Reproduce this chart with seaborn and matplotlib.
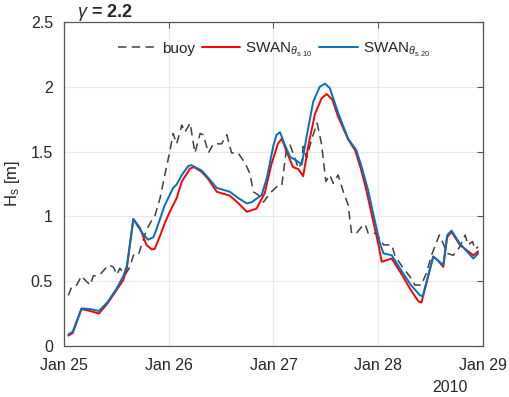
import matplotlib
matplotlib.use('Agg')
import matplotlib.pyplot as plt
import matplotlib.dates as mdates
from matplotlib.ticker import FuncFormatter, MultipleLocator
import pandas as pd
import seaborn as sns

# hours after 2010-01-25 00:00
swan10_hours = [1, 2, 4, 6, 8, 10, 12, 13.6, 14.4, 15.9, 17.4, 18.9, 20.1, 20.8, 22, 23.1, 24.3,
                25.8, 27, 28.9, 29.8, 31.5, 33, 35, 37, 38, 40, 41.9, 44.1, 46, 47.5, 49, 49.9,
                51, 52.5, 53.7, 54.8, 56, 57.5, 59, 60.2, 61.5, 62.8, 65.1, 66.7, 68, 69.3, 70.6,
                72, 72.8, 75.1, 77.7, 79.5, 81.2, 81.9, 84.6, 85.7, 86.9, 87.8, 88.8, 90.7, 93.8, 94.9]
swan10_hs = [0.08, 0.10, 0.285, 0.27, 0.25, 0.33, 0.43, 0.51, 0.60, 0.98, 0.91, 0.78, 0.745, 0.75,
             0.85, 0.95, 1.04, 1.14, 1.27, 1.37, 1.38, 1.345, 1.29, 1.19, 1.17, 1.16, 1.10, 1.035,
             1.06, 1.18, 1.40, 1.56, 1.60, 1.50, 1.38, 1.365, 1.31, 1.55, 1.79, 1.91, 1.945, 1.90,
             1.77, 1.595, 1.51, 1.37, 1.20, 1.00, 0.79, 0.65, 0.675, 0.535, 0.43, 0.345, 0.335,
             0.69, 0.66, 0.61, 0.84, 0.88, 0.78, 0.70, 0.73]

swan20_hours = [1, 2, 4, 6, 8, 10, 12, 13.6, 14.4, 15.9, 17, 18.2, 19.3, 20.5, 21.5, 23, 25, 25.8,
                27, 28.5, 29.2, 31.5, 33, 35, 38, 40, 41.9, 43, 45.3, 46.5, 48, 48.7, 49.5, 50.5,
                51.8, 53.3, 54.5, 55.5, 57.1, 58.6, 59.8, 60.9, 62.8, 65.1, 67, 68.3, 69.7, 71,
                72.4, 73.2, 75.1, 77.7, 79.5, 81.6, 82.2, 84.6, 86.9, 87.8, 88.8, 90.7, 93.8, 94.9]
swan20_hs = [0.09, 0.11, 0.29, 0.285, 0.27, 0.34, 0.44, 0.54, 0.62, 0.98, 0.92, 0.86, 0.82, 0.84,
             0.93, 1.08, 1.22, 1.245, 1.32, 1.39, 1.395, 1.355, 1.30, 1.22, 1.19, 1.14, 1.10, 1.11,
             1.165, 1.30, 1.55, 1.63, 1.65, 1.56, 1.46, 1.43, 1.40, 1.60, 1.885, 2.00, 2.025, 1.99,
             1.80, 1.60, 1.51, 1.37, 1.20, 1.00, 0.79, 0.715, 0.70, 0.56, 0.47, 0.39, 0.385,
             0.69, 0.625, 0.855, 0.89, 0.79, 0.675, 0.715]

buoy_hours = [1, 1.8, 2.9, 4, 4.8, 6, 6.7, 8.2, 10.2, 11.3, 12.1, 12.8, 14, 15.1, 15.9, 17, 18.9,
              20.1, 20.8, 22, 23.1, 24.3, 25, 25.8, 27, 27.7, 28.9, 30, 31.2, 31.9, 33.1, 34.2,
              36.1, 37.3, 38.4, 39.9, 41.5, 42.6, 43.4, 44.5, 45.7, 47.2, 49.1, 49.9, 51, 51.8,
              52.9, 53.7, 54.5, 54.8, 55.6, 56.7, 58, 59, 60, 60.9, 61.7, 62.8, 64, 65.1, 65.9,
              67, 68.2, 69, 69.7, 71.6, 73.2, 75.1, 75.8, 77.7, 79.3, 80.4, 81.9, 83.1, 84.2, 86,
              86.9, 87.8, 89.2, 90.7, 91.9, 92.6, 93.6, 94.2, 94.9]
buoy_hs = [0.39, 0.46, 0.47, 0.54, 0.51, 0.47, 0.54, 0.55, 0.625, 0.61, 0.55, 0.60, 0.55, 0.61,
           0.70, 0.70, 0.895, 0.97, 1.0, 1.14, 1.32, 1.51, 1.64, 1.56, 1.705, 1.65, 1.72, 1.49,
           1.64, 1.63, 1.49, 1.56, 1.56, 1.63, 1.49, 1.49, 1.41, 1.33, 1.19, 1.165, 1.11, 1.18,
           1.24, 1.24, 1.525, 1.55, 1.45, 1.37, 1.42, 1.54, 1.45, 1.59, 1.72, 1.56, 1.27, 1.32,
           1.255, 1.32, 1.19, 1.09, 0.87, 0.87, 0.92, 0.94, 0.87, 0.87, 0.78, 0.78, 0.70, 0.60,
           0.535, 0.47, 0.47, 0.57, 0.70, 0.856, 0.79, 0.715, 0.70, 0.766, 0.856, 0.78, 0.805,
           0.746, 0.766]

start = pd.Timestamp('2010-01-25')


def to_time(hours):
    return start + pd.to_timedelta(hours, unit='h')


sns.set_style('white')
plt.rcParams['font.family'] = ['Liberation Sans', 'DejaVu Sans']
plt.rcParams['mathtext.fontset'] = 'custom'
plt.rcParams['mathtext.rm'] = 'Liberation Sans'
plt.rcParams['mathtext.it'] = 'Liberation Sans:italic'
plt.rcParams['mathtext.bf'] = 'Liberation Sans:bold'

fig = plt.figure(figsize=(5.1, 3.97), dpi=100)
ax = fig.add_axes([0.1255, 0.1285, 0.8215, 0.816])

sns.lineplot(x=to_time(buoy_hours), y=buoy_hs, ax=ax, color='#404040', lw=1.1,
             label='buoy')
ax.lines[-1].set_dashes([5.5, 3.5])
sns.lineplot(x=to_time(swan10_hours), y=swan10_hs, ax=ax, color='#ff0000', lw=1.4,
             label=r'SWAN$_{\theta_{\mathrm{s\ 10}}}$')
sns.lineplot(x=to_time(swan20_hours), y=swan20_hs, ax=ax, color='#0072bd', lw=1.4,
             label=r'SWAN$_{\theta_{\mathrm{s\ 20}}}$')

ax.set_xlim(start, start + pd.Timedelta(days=4))
ax.set_ylim(0, 2.5)
ax.xaxis.set_major_locator(mdates.DayLocator())
ax.xaxis.set_major_formatter(mdates.DateFormatter('%b %d'))
ax.yaxis.set_major_locator(MultipleLocator(0.5))
ax.yaxis.set_major_formatter(FuncFormatter(lambda v, p: f'{v:g}'))
ax.tick_params(direction='in', length=4, top=True, right=True, labelsize=11.5,
               color='#555555', labelcolor='#262626')
ax.tick_params(axis='x', pad=9)
ax.tick_params(axis='y', pad=8)
ax.grid(True, color='#e8e8e8', lw=0.8)
for s in ax.spines.values():
    s.set_color('#555555')
    s.set_linewidth(0.9)

ax.set_xlabel('')
ax.set_ylabel(r'H$_{\mathrm{s}}$ [m]', fontsize=12, color='#262626', labelpad=6)
ax.text(0.03, 1.0154, r'$\gamma$ = 2.2', transform=ax.transAxes, fontsize=13,
        fontweight='bold', ha='left', va='baseline')
ax.text(0.92, -0.105, '2010', transform=ax.transAxes, fontsize=11.5, color='#262626',
        ha='center', va='top')

ax.legend(loc='center', bbox_to_anchor=(0.502, 0.915), ncol=3, frameon=False,
          fontsize=11, handlelength=2.5, handletextpad=0.35, columnspacing=0.45)

plt.savefig('out.png', dpi=100)
